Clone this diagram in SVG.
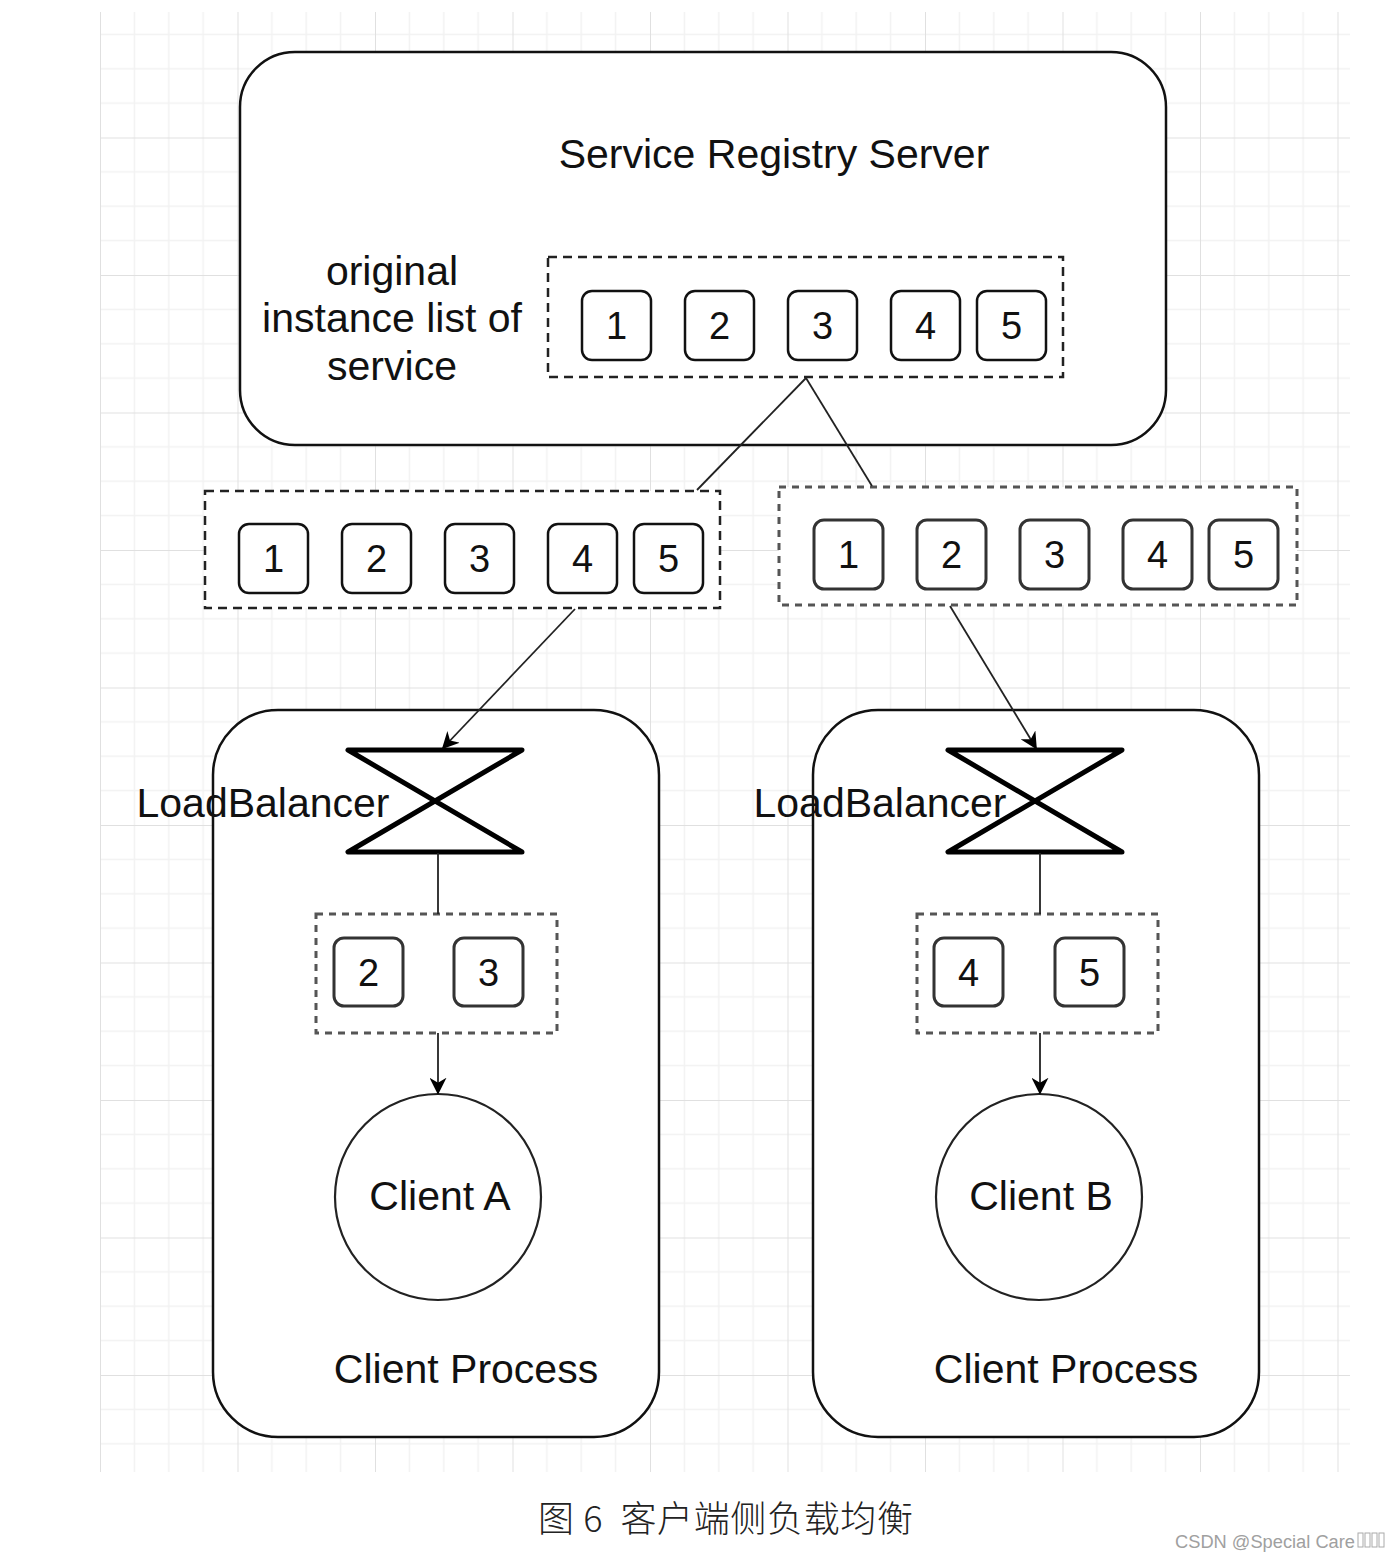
<svg xmlns="http://www.w3.org/2000/svg" width="1400" height="1560" viewBox="0 0 1400 1560">
<defs>
  <pattern id="grid" x="100" y="0" width="137.5" height="137.5" patternUnits="userSpaceOnUse">
    <path d="M34.4,0 V137.5 M68.75,0 V137.5 M103.1,0 V137.5 M0,34.4 H137.5 M0,68.75 H137.5 M0,103.1 H137.5" stroke="#f2f2f2" stroke-width="1.5" fill="none"/>
    <path d="M0,0 V137.5 M0,0 H137.5" stroke="#e0e0e0" stroke-width="2" fill="none"/>
  </pattern>
  <marker id="arr" viewBox="0 0 10 10" refX="9" refY="5" markerWidth="17" markerHeight="17" orient="auto" markerUnits="userSpaceOnUse">
    <path d="M0,0 L10,5 L0,10 L3,5 Z" fill="#000"/>
  </marker>
</defs>
<style>
  .t { font-family: "Liberation Sans", Arial, sans-serif; font-size: 41px; fill: #111; text-anchor: middle; }
  .d { font-family: "Liberation Sans", Arial, sans-serif; font-size: 38px; fill: #111; text-anchor: middle; }
  .big { fill: #fff; stroke: #111; stroke-width: 2.5; }
  .dash { fill: #fff; stroke: #222; stroke-width: 2.5; stroke-dasharray: 9 6; }
  .dash2 { fill: #fff; stroke: #555; stroke-width: 3; stroke-dasharray: 7 6; }
  .num { fill: #fff; stroke: #111; stroke-width: 2.5; }
  .num2 { fill: #fff; stroke: #333; stroke-width: 3; }
  .lb { fill: #fff; stroke: #000; stroke-width: 5; stroke-linejoin: round; }
  .c { fill: none; stroke: #222; stroke-width: 1.8; }
</style>
<rect x="0" y="0" width="1400" height="1560" fill="#fff"/>
<rect x="100" y="12" width="1250" height="1460" fill="url(#grid)"/>

<g id="registry">
  <rect class="big" x="240" y="52" width="926" height="393" rx="55"/>
  <text class="t" x="774" y="168">Service Registry Server</text>
  <text class="t" x="392" y="285">original</text>
  <text class="t" x="392" y="332">instance list of</text>
  <text class="t" x="392" y="380">service</text>
</g>
<g id="registry-list">
  <rect class="dash" x="548" y="257" width="515" height="120"/>
  <rect class="num" x="582" y="291" width="69" height="69" rx="10"/><text class="d" x="616.5" y="339">1</text>
  <rect class="num" x="685" y="291" width="69" height="69" rx="10"/><text class="d" x="719.5" y="339">2</text>
  <rect class="num" x="788" y="291" width="69" height="69" rx="10"/><text class="d" x="822.5" y="339">3</text>
  <rect class="num" x="891" y="291" width="69" height="69" rx="10"/><text class="d" x="925.5" y="339">4</text>
  <rect class="num" x="977" y="291" width="69" height="69" rx="10"/><text class="d" x="1011.5" y="339">5</text>
</g>

<g id="list-a">
  <rect class="dash" x="205" y="491" width="515" height="117"/>
  <rect class="num" x="239" y="524" width="69" height="69" rx="10"/><text class="d" x="273.5" y="572">1</text>
  <rect class="num" x="342" y="524" width="69" height="69" rx="10"/><text class="d" x="376.5" y="572">2</text>
  <rect class="num" x="445" y="524" width="69" height="69" rx="10"/><text class="d" x="479.5" y="572">3</text>
  <rect class="num" x="548" y="524" width="69" height="69" rx="10"/><text class="d" x="582.5" y="572">4</text>
  <rect class="num" x="634" y="524" width="69" height="69" rx="10"/><text class="d" x="668.5" y="572">5</text>
</g>

<g id="list-b">
  <rect class="dash2" x="779" y="487" width="518" height="118"/>
  <rect class="num2" x="814" y="520" width="69" height="69" rx="10"/><text class="d" x="848.5" y="568">1</text>
  <rect class="num2" x="917" y="520" width="69" height="69" rx="10"/><text class="d" x="951.5" y="568">2</text>
  <rect class="num2" x="1020" y="520" width="69" height="69" rx="10"/><text class="d" x="1054.5" y="568">3</text>
  <rect class="num2" x="1123" y="520" width="69" height="69" rx="10"/><text class="d" x="1157.5" y="568">4</text>
  <rect class="num2" x="1209" y="520" width="69" height="69" rx="10"/><text class="d" x="1243.5" y="568">5</text>
</g>

<g id="process-a">
  <rect class="big" x="213" y="710" width="446" height="727" rx="65"/>
  <text class="t" x="466" y="1383">Client Process</text>
</g>
<g id="process-b">
  <rect class="big" x="813" y="710" width="446" height="727" rx="65"/>
  <text class="t" x="1066" y="1383">Client Process</text>
</g>

<g id="lb-a">
  <path class="lb" d="M348,750 H522 L348,852 H522 Z"/>
  <text class="t" x="263" y="817">LoadBalancer</text>
</g>
<g id="lb-b">
  <path class="lb" d="M948,750 H1122 L948,852 H1122 Z"/>
  <text class="t" x="880" y="817">LoadBalancer</text>
</g>

<g id="sub-a">
  <rect class="dash2" x="316" y="914" width="241" height="119"/>
  <rect class="num2" x="334" y="938" width="69" height="68" rx="10"/><text class="d" x="368.5" y="986">2</text>
  <rect class="num2" x="454" y="938" width="69" height="68" rx="10"/><text class="d" x="488.5" y="986">3</text>
</g>
<g id="sub-b">
  <rect class="dash2" x="917" y="914" width="241" height="119"/>
  <rect class="num2" x="934" y="938" width="69" height="68" rx="10"/><text class="d" x="968.5" y="986">4</text>
  <rect class="num2" x="1055" y="938" width="69" height="68" rx="10"/><text class="d" x="1089.5" y="986">5</text>
</g>

<g id="client-a">
  <circle cx="438" cy="1197" r="103" fill="#fff" stroke="#222" stroke-width="2.2"/>
  <text class="t" x="440" y="1210">Client A</text>
</g>
<g id="client-b">
  <circle cx="1039" cy="1197" r="103" fill="#fff" stroke="#222" stroke-width="2.2"/>
  <text class="t" x="1041" y="1210">Client B</text>
</g>

<g id="connectors">
  <line class="c" x1="806" y1="378" x2="697" y2="490"/>
  <line class="c" x1="806" y1="378" x2="872" y2="486"/>
  <line class="c" x1="575" y1="609" x2="443" y2="748" marker-end="url(#arr)"/>
  <line class="c" x1="950" y1="606" x2="1036" y2="748" marker-end="url(#arr)"/>
  <line class="c" x1="438" y1="853" x2="438" y2="914"/>
  <line class="c" x1="1040" y1="853" x2="1040" y2="914"/>
  <line class="c" x1="438" y1="1033" x2="438" y2="1093" marker-end="url(#arr)"/>
  <line class="c" x1="1040" y1="1033" x2="1040" y2="1093" marker-end="url(#arr)"/>
</g>

<text x="538" y="1532" font-family="'Noto Sans CJK SC', sans-serif" font-size="36" font-weight="300" fill="#222" textLength="375" lengthAdjust="spacing" xml:space="preserve">图 6  客户端侧负载均衡</text>
<text x="1175" y="1548" font-family="'Liberation Sans', Arial, sans-serif" font-size="18" fill="#a0a0a0" textLength="180" lengthAdjust="spacingAndGlyphs">CSDN @Special Care</text>
<g fill="none" stroke="#aaa" stroke-width="1">
  <rect x="1358" y="1533" width="5" height="14"/>
  <rect x="1365" y="1533" width="5" height="14"/>
  <rect x="1372" y="1533" width="5" height="14"/>
  <rect x="1379" y="1533" width="5" height="14"/>
</g>
</svg>
